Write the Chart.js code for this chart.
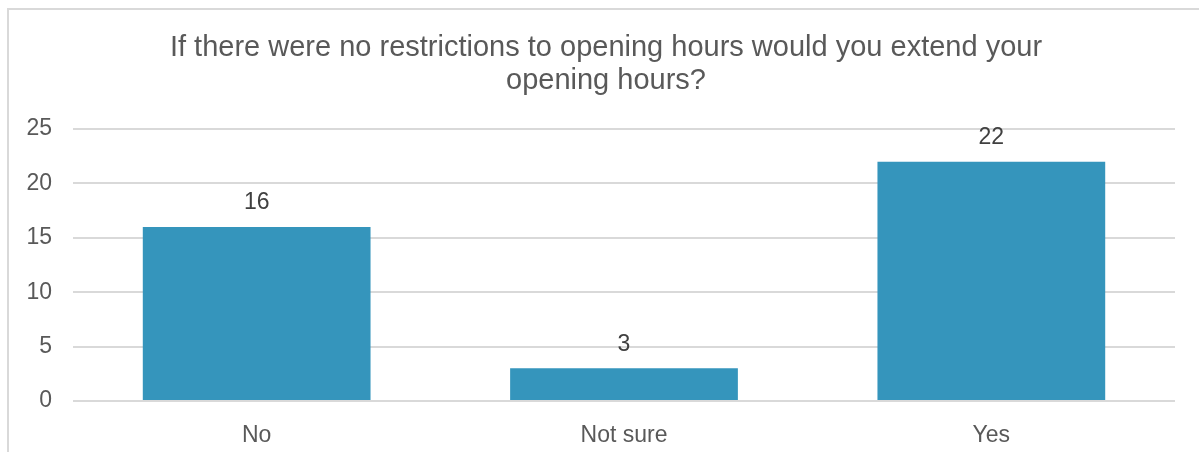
<!DOCTYPE html>
<html>
<head>
<meta charset="utf-8">
<script src="https://cdn.jsdelivr.net/npm/chart.js@4/dist/chart.umd.min.js"></script>
<style>
    html, body { margin: 0; padding: 0; background: #fff; overflow: hidden; }
    #frame {
        position: absolute; left: 7px; top: 8px; width: 1250px; height: 500px;
        border: 2px solid #d9d9d9; box-sizing: border-box;
    }
    #wrap { position: absolute; left: 0; top: 0; width: 1199px; height: 452px; }
</style>
</head>
<body>
<div id="frame"></div>
<div id="wrap"><canvas id="chart"></canvas></div>
<script>
// chart data
const categories = ['No', 'Not sure', 'Yes'];
const responses = [16, 3, 22];
const titleLines = ['If there were no restrictions to opening hours would you extend your', 'opening hours?'];

const FONT = "'Liberation Sans', Arial, sans-serif";

// Value labels above bars
const barLabels = {
    id: 'barLabels',
    afterDatasetsDraw(chart) {
        const ctx = chart.ctx;
        const meta = chart.getDatasetMeta(0);
        ctx.save();
        ctx.font = '23px ' + FONT;
        ctx.fillStyle = '#404040';
        ctx.textAlign = 'center';
        ctx.textBaseline = 'middle';
        meta.data.forEach((bar, i) => {
            ctx.fillText(String(chart.data.datasets[0].data[i]), bar.x, bar.y - 24);
        });
        ctx.restore();
    }
};

// Title drawn off-centre like the original (the box is wider than the page)
const chartTitle = {
    id: 'chartTitle',
    afterDraw(chart) {
        const ctx = chart.ctx;
        ctx.save();
        ctx.font = '29px ' + FONT;
        ctx.fillStyle = '#595959';
        ctx.textAlign = 'center';
        ctx.textBaseline = 'middle';
        titleLines.forEach((line, i) => ctx.fillText(line, 606, 48 + i * 33));
        ctx.restore();
    }
};

new Chart(document.getElementById('chart'), {
    type: 'bar',
    data: {
        labels: categories,
        datasets: [{
            data: responses,
            backgroundColor: '#3595bc',
            borderWidth: 0,
            categoryPercentage: 0.62,
            barPercentage: 1
        }]
    },
    options: {
        responsive: true,
        maintainAspectRatio: false,
        animation: false,
        layout: { padding: { left: 0, right: 24, top: 129, bottom: 0 } },
        plugins: {
            legend: { display: false },
            tooltip: { enabled: false },
            title: { display: false }
        },
        scales: {
            x: {
                grid: { display: false },
                border: { display: false },
                ticks: { color: '#595959', font: { family: FONT, size: 23 }, padding: 13 },
                afterFit: s => { s.height = 51; }
            },
            y: {
                min: 0,
                max: 25,
                ticks: { stepSize: 5, color: '#595959', font: { family: FONT, size: 23 }, padding: 21 },
                grid: { color: '#d9d9d9', lineWidth: 2, drawTicks: false },
                border: { display: false },
                afterFit: s => { s.width = 73; }
            }
        }
    },
    plugins: [barLabels, chartTitle]
});
</script>
</body>
</html>
